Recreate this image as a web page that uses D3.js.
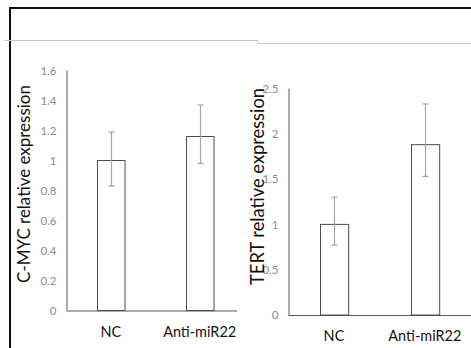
<!DOCTYPE html>
<html>
<head>
<meta charset="utf-8">
<script src="https://cdn.jsdelivr.net/npm/d3@7"></script>
<style>
  html, body { margin: 0; padding: 0; background: #fff; }
  svg { display: block; }
</style>
</head>
<body>
<svg id="chart" width="471" height="348"></svg>
<script>
// data
const categories = ['NC', 'Anti-miR22'];

const mycValues = [1.0, 1.16];
const mycErrLow = [0.17, 0.18];
const mycErrHigh = [0.19, 0.21];
const mycTicks = [0, 0.2, 0.4, 0.6, 0.8, 1, 1.2, 1.4, 1.6];

const tertValues = [1.0, 1.88];
const tertErrLow = [0.23, 0.35];
const tertErrHigh = [0.3, 0.45];
const tertTicks = [0, 0.5, 1, 1.5, 2, 2.5];

const font = 'Lato, "Open Sans", sans-serif';

const svg = d3.select('#chart');

// outer frame (cut off at right/bottom) and the grey rule across the top
svg.append('rect')
  .attr('x', 10).attr('y', 8)
  .attr('width', 500).attr('height', 400)
  .attr('fill', 'none')
  .attr('stroke', '#111')
  .attr('stroke-width', 2);

svg.append('path')
  .attr('d', 'M4,40.5H257.5V43.5H471')
  .attr('fill', 'none')
  .attr('stroke', '#c8c8c8')
  .attr('stroke-width', 1);

const panels = [
  {
    title: 'C-MYC relative expression',
    values: mycValues, lo: mycErrLow, hi: mycErrHigh, ticks: mycTicks,
    max: 1.6, x0: 66.5, x1: 244, axisEnd: 237, yBottom: 310.5, yTop: 70.5,
    titleX: 23, titleY: 184, tickFmt: d => d3.format('~g')(d)
  },
  {
    title: 'TERT relative expression',
    values: tertValues, lo: tertErrLow, hi: tertErrHigh, ticks: tertTicks,
    max: 2.5, x0: 288.5, x1: 470.3, axisEnd: 471, yBottom: 315, yTop: 88.5,
    titleX: 256.5, titleY: 186.5, tickFmt: d => d3.format('~g')(d)
  }
];

// size text so that it spans the same length as in the picture
function fitFont(sel, target) {
  const len = sel.node().getComputedTextLength();
  const size = parseFloat(sel.style('font-size'));
  sel.style('font-size', (size * target / len).toFixed(2) + 'px');
}

panels.forEach(p => {
  const g = svg.append('g');

  const y = d3.scaleLinear().domain([0, p.max]).range([p.yBottom, p.yTop]);
  const x = d3.scaleBand()
    .domain(categories)
    .range([p.x0, p.x1])
    .paddingInner(0.69)
    .paddingOuter(0.345);

  // y axis: plain line, grey labels, no tick marks
  const yAxis = g.append('g')
    .attr('transform', `translate(${p.x0},0)`)
    .call(d3.axisLeft(y).tickValues(p.ticks).tickSize(0).tickPadding(10).tickFormat(p.tickFmt));
  yAxis.select('.domain').attr('stroke', '#595959').attr('d', `M0.5,${p.yTop}V${p.yBottom}`);
  yAxis.selectAll('text')
    .attr('fill', '#8c8c8c')
    .style('font-family', font)
    .style('font-size', '11.5px');

  // x axis
  const xAxis = g.append('g')
    .attr('transform', `translate(0,${p.yBottom})`)
    .call(d3.axisBottom(x).tickSize(0).tickPadding(16));
  xAxis.select('.domain').attr('stroke', '#595959').attr('d', `M${p.x0},0.5H${p.axisEnd}`);
  xAxis.selectAll('text')
    .attr('fill', '#111')
    .style('font-family', font)
    .style('font-size', '14px');
  const longest = xAxis.selectAll('text').filter(d => d === 'Anti-miR22');
  fitFont(longest, 73);
  xAxis.selectAll('text').style('font-size', longest.style('font-size'));

  // bars
  g.selectAll('rect.bar')
    .data(p.values)
    .join('rect')
    .attr('class', 'bar')
    .attr('x', (d, i) => Math.round(x(categories[i])) + 0.5)
    .attr('y', d => y(d))
    .attr('width', x.bandwidth())
    .attr('height', d => p.yBottom - y(d))
    .attr('fill', '#fff')
    .attr('stroke', '#4d4d4d')
    .attr('stroke-width', 1);

  // error bars
  const cx = i => Math.round(x(categories[i]) + x.bandwidth() / 2) + 0.5;
  const err = g.selectAll('g.err')
    .data(p.values)
    .join('g')
    .attr('class', 'err')
    .attr('stroke', '#a6a6a6')
    .attr('stroke-width', 1.2);
  err.append('line')
    .attr('x1', (d, i) => cx(i)).attr('x2', (d, i) => cx(i))
    .attr('y1', (d, i) => y(d + p.hi[i]))
    .attr('y2', (d, i) => y(d - p.lo[i]));
  err.append('line')
    .attr('x1', (d, i) => cx(i) - 3).attr('x2', (d, i) => cx(i) + 3)
    .attr('y1', (d, i) => y(d + p.hi[i])).attr('y2', (d, i) => y(d + p.hi[i]));
  err.append('line')
    .attr('x1', (d, i) => cx(i) - 3).attr('x2', (d, i) => cx(i) + 3)
    .attr('y1', (d, i) => y(d - p.lo[i])).attr('y2', (d, i) => y(d - p.lo[i]));

  // axis title
  const title = g.append('text')
    .attr('transform', `translate(${p.titleX},${p.titleY}) rotate(-90)`)
    .attr('text-anchor', 'middle')
    .attr('dominant-baseline', 'central')
    .attr('fill', '#111')
    .style('font-family', font)
    .style('font-size', '16px')
    .text(p.title);
  fitFont(title, p.title.startsWith('C') ? 198 : 197);
});
</script>
</body>
</html>
